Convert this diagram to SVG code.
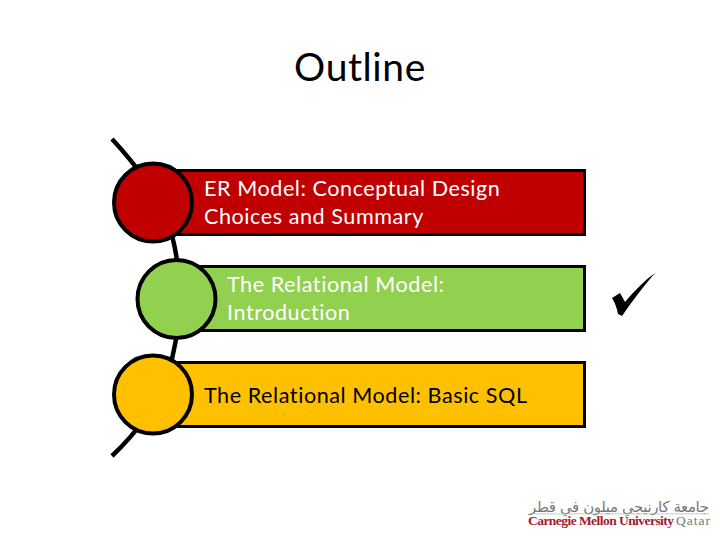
<svg xmlns="http://www.w3.org/2000/svg" width="720" height="540" viewBox="0 0 720 540">
<style>
.t{font-family:Lato,"Open Sans",sans-serif;font-size:21.6px;letter-spacing:.55px}
.w{fill:#fff}
.b{fill:#000}
.bar{stroke:#000;stroke-width:3}
.dot{stroke:#000;stroke-width:4}
</style>
<rect width="720" height="540" fill="#fff"/>
<text id="title" x="360" y="81" text-anchor="middle" font-family="Lato,'Open Sans',sans-serif" font-size="39" fill="#000" letter-spacing=".6">Outline</text>
<g id="connectors"><path d="M112 139Q150 180 166 216C184 266 184 326 166 380Q150 420 112 456" fill="none" stroke="#000" stroke-width="4.5"/></g>
<g id="node1"><rect class="bar" x="152" y="170.500" width="432.500" height="64" fill="#c00000"/><circle class="dot" cx="153" cy="202.500" r="39" fill="#c00000"/><text class="t w" x="204" y="196">ER Model: Conceptual Design</text><text class="t w" x="204" y="224">Choices and Summary</text></g>
<g id="node2"><rect class="bar" x="176" y="266.500" width="408.500" height="64" fill="#92d050"/><circle class="dot" cx="176.500" cy="299" r="39" fill="#92d050"/><text class="t w" x="227" y="292">The Relational Model:</text><text class="t w" x="227" y="320">Introduction</text></g>
<g id="node3"><rect class="bar" x="152" y="362.500" width="432.500" height="64" fill="#ffc000"/><circle class="dot" cx="153" cy="394.500" r="39" fill="#ffc000"/><text class="t b" x="204" y="402.500">The Relational Model: Basic SQL</text></g>
<path id="check" d="M612 298L620 293L625 302C634 291 644 281 655 273C643 287 632 301 622 316L618 314C617 308 615 303 612 298Z" fill="#000"/>
<g id="logo">
<text x="619" y="512" text-anchor="middle" textLength="180" font-family="'DejaVu Sans',sans-serif" font-size="15" fill="#777" direction="rtl">جامعة كارنيجي ميلون في قطر</text>
<rect x="529" y="513.500" width="180" height=".8" fill="#bbb"/>
<text x="528" y="525" font-family="'Liberation Serif',serif" font-size="13.500" font-weight="bold" fill="#a6192e" textLength="146">Carnegie Mellon University</text>
<text x="676" y="525" font-family="'Liberation Serif',serif" font-size="13.500" fill="#777" textLength="34">Qatar</text>
</g>
</svg>
